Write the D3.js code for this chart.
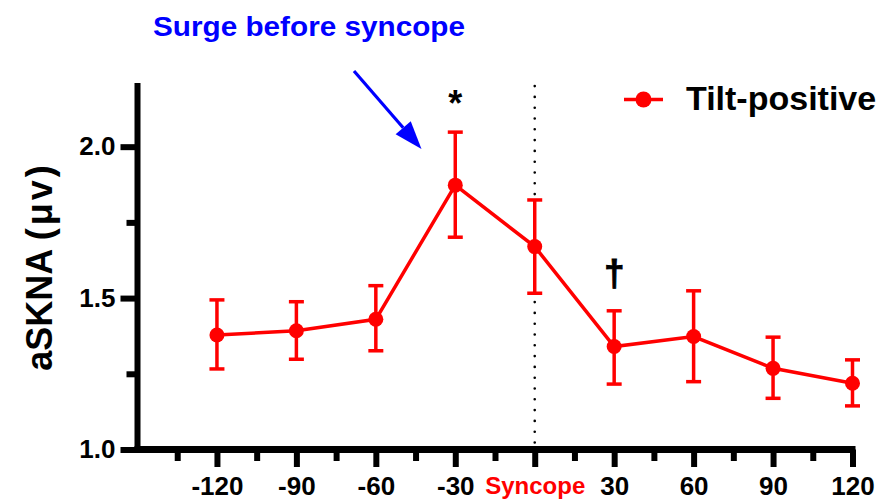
<!DOCTYPE html>
<html>
<head>
<meta charset="utf-8">
<script src="https://cdn.jsdelivr.net/npm/d3@7"></script>
<style>
  html, body { margin: 0; padding: 0; background: #fff; }
  svg { display: block; }
  text { font-family: "Liberation Sans", Arial, sans-serif; font-weight: bold; }
</style>
</head>
<body>
<svg id="chart" width="883" height="503"></svg>
<script>
// Minutes relative to syncope
const times = [-120, -90, -60, -30, 0, 30, 60, 90, 120];
// aSKNA mean and error-bar ends (µV)
const means = [1.378, 1.392, 1.430, 1.873, 1.670, 1.340, 1.373, 1.268, 1.219];
const upper = [1.494, 1.488, 1.541, 2.048, 1.824, 1.458, 1.524, 1.371, 1.296];
const lower = [1.266, 1.298, 1.326, 1.701, 1.516, 1.216, 1.224, 1.169, 1.144];

const xMajorTicks = [-120, -90, -60, -30, 0, 30, 60, 90, 120];
const xMinorTicks = [-135, -105, -75, -45, -15, 15, 45, 75, 105];
const xTickLabels = ["-120", "-90", "-60", "-30", "Syncope", "30", "60", "90", "120"];
const yMajorTicks = [1.0, 1.5, 2.0];
const yMinorTicks = [1.25, 1.75];
const yTickLabels = ["1.0", "1.5", "2.0"];

const seriesName = "Tilt-positive";
const yTitleMain = "aSKNA ";
const yTitleUnit = "(\u03bcv)";
const annotation = "Surge before syncope";

const red = "#ff0000";
const svg = d3.select("#chart");

const x = d3.scaleLinear().domain([-150, 120]).range([137.5, 852.5]);
const y = d3.scaleLinear().domain([1.0, 2.2]).range([449.5, 86.1]);

// Syncope marker
svg.append("line")
  .attr("x1", x(0)).attr("x2", x(0))
  .attr("y1", y(2.2)).attr("y2", y(1.0))
  .attr("stroke", "#000").attr("stroke-width", 2.6)
  .attr("stroke-linecap", "round")
  .attr("stroke-dasharray", "0,10.8");

// Axes
const axisW = 6;
function styleAxis(g) {
  g.select(".domain").remove();
  g.selectAll(".tick line").attr("stroke", "#000").attr("stroke-width", axisW);
}

// y axis: minor then major ticks
svg.append("g").attr("transform", `translate(${x(-150)},0)`)
  .call(d3.axisLeft(y).tickValues(yMinorTicks).tickSize(11).tickFormat(""))
  .call(styleAxis);
const yAx = svg.append("g").attr("transform", `translate(${x(-150)},0)`)
  .call(d3.axisLeft(y).tickValues(yMajorTicks).tickSize(17).tickPadding(5)
    .tickFormat((d, i) => yTickLabels[i]))
  .call(styleAxis);
yAx.selectAll(".tick text").attr("font-size", 26).attr("fill", "#000")
  .attr("font-family", "Liberation Sans, Arial, sans-serif").attr("font-weight", "bold");

// x axis
svg.append("g").attr("transform", `translate(0,${y(1.0)})`)
  .call(d3.axisBottom(x).tickValues(xMinorTicks).tickSize(11.5).tickFormat(""))
  .call(styleAxis);
const xAx = svg.append("g").attr("transform", `translate(0,${y(1.0)})`)
  .call(d3.axisBottom(x).tickValues(xMajorTicks).tickSize(17.5).tickPadding(10)
    .tickFormat((d, i) => xTickLabels[i]))
  .call(styleAxis);
xAx.selectAll(".tick text")
  .attr("font-family", "Liberation Sans, Arial, sans-serif").attr("font-weight", "bold")
  .attr("fill", d => d === 0 ? red : "#000")
  .attr("font-size", d => d === 0 ? 24 : 26);

// axis lines
svg.append("line")
  .attr("x1", x(-150)).attr("x2", x(-150))
  .attr("y1", y(1.0)).attr("y2", 83)
  .attr("stroke", "#000").attr("stroke-width", axisW);
svg.append("line")
  .attr("x1", x(-150) - 3).attr("x2", x(120) + 3)
  .attr("y1", y(1.0)).attr("y2", y(1.0))
  .attr("stroke", "#000").attr("stroke-width", axisW + 1);

// y title
const yt = svg.append("text")
  .attr("transform", `translate(52,266.5) rotate(-90)`)
  .attr("text-anchor", "middle")
  .attr("font-size", 36)
  .attr("fill", "#000");
yt.append("tspan").text(yTitleMain);
yt.append("tspan").attr("letter-spacing", 3).text(yTitleUnit);

// data
const pts = times.map((t, i) => ({ t, m: means[i], hi: upper[i], lo: lower[i] }));

const bars = svg.append("g").attr("stroke", red).attr("stroke-width", 3.5).attr("fill", "none");
const capHalf = 7.5;
pts.forEach(p => {
  bars.append("line").attr("x1", x(p.t)).attr("x2", x(p.t)).attr("y1", y(p.hi)).attr("y2", y(p.lo));
  bars.append("line").attr("x1", x(p.t) - capHalf).attr("x2", x(p.t) + capHalf).attr("y1", y(p.hi)).attr("y2", y(p.hi));
  bars.append("line").attr("x1", x(p.t) - capHalf).attr("x2", x(p.t) + capHalf).attr("y1", y(p.lo)).attr("y2", y(p.lo));
});

svg.append("path")
  .datum(pts)
  .attr("fill", "none").attr("stroke", red).attr("stroke-width", 3.5)
  .attr("d", d3.line().x(d => x(d.t)).y(d => y(d.m)));

svg.append("g").selectAll("circle").data(pts).join("circle")
  .attr("cx", d => x(d.t)).attr("cy", d => y(d.m)).attr("r", 7.5)
  .attr("fill", red);

// significance marks
svg.append("text").attr("x", x(-30)).attr("y", 116).attr("text-anchor", "middle")
  .attr("font-size", 36).attr("fill", "#000").text("*");
svg.append("text").attr("x", x(30)).attr("y", 286).attr("text-anchor", "middle")
  .attr("font-size", 37).attr("fill", "#000").attr("stroke", "#000").attr("stroke-width", 0.8)
  .text("\u2020");

// legend
svg.append("line").attr("x1", 624).attr("x2", 663).attr("y1", 99.5).attr("y2", 99.5)
  .attr("stroke", red).attr("stroke-width", 3.5);
svg.append("circle").attr("cx", 643.5).attr("cy", 99.5).attr("r", 8).attr("fill", red);
svg.append("text").attr("x", 686).attr("y", 110).attr("font-size", 34).attr("fill", "#000").text(seriesName);

// annotation with arrow
svg.append("text").attr("x", 153).attr("y", 36).attr("font-size", 28.5)
  .attr("textLength", 312).attr("lengthAdjust", "spacingAndGlyphs")
  .attr("fill", "#0000ff").text(annotation);
const arrow = { x1: 354, y1: 71, x2: 421.5, y2: 149 };
const ang = Math.atan2(arrow.y2 - arrow.y1, arrow.x2 - arrow.x1);
const headLen = 28, headHalf = 10;
const bx = arrow.x2 - headLen * Math.cos(ang), by = arrow.y2 - headLen * Math.sin(ang);
svg.append("line").attr("x1", arrow.x1).attr("y1", arrow.y1).attr("x2", bx).attr("y2", by)
  .attr("stroke", "#0000ff").attr("stroke-width", 3.2);
svg.append("path")
  .attr("d", d3.line()([
    [arrow.x2, arrow.y2],
    [bx + headHalf * Math.sin(ang), by - headHalf * Math.cos(ang)],
    [bx - headHalf * Math.sin(ang), by + headHalf * Math.cos(ang)]
  ]) + "Z")
  .attr("fill", "#0000ff");
</script>
</body>
</html>
